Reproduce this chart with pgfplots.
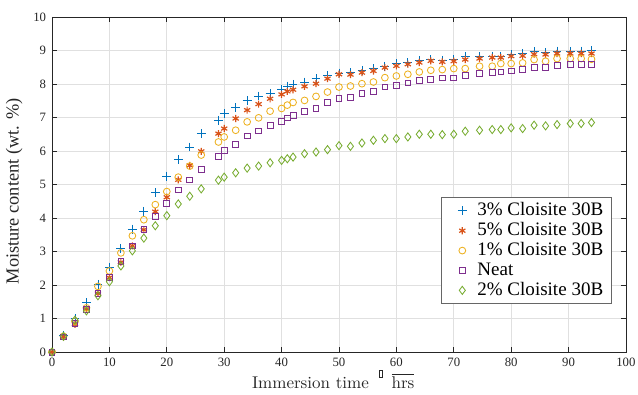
\documentclass[border=0pt]{standalone}
\usepackage{fontspec}
\usepackage{pgfplots}
\usepackage{pgfplotstable}
\pgfplotsset{compat=1.18}
\newfontfamily\tnr{Liberation Serif}
\definecolor{mblue}{rgb}{0,0.447,0.741}
\definecolor{mred}{rgb}{0.85,0.325,0.098}
\definecolor{myel}{rgb}{0.929,0.694,0.125}
\definecolor{mpur}{rgb}{0.494,0.184,0.556}
\definecolor{mgrn}{rgb}{0.466,0.674,0.188}
\pgfplotstableread{
t     c3    c5    c1    neat  c2
0     0     0     0     0     0
2     0.50  0.45  0.47  0.45  0.47
4     1.00  0.83  0.92  0.85  0.95
6     1.47  1.28  1.32  1.27  1.23
8     2.02  1.75  1.96  1.75  1.68
10    2.54  2.22  2.42  2.22  2.10
12    3.10  2.68  2.96  2.70  2.57
14    3.67  3.17  3.47  3.17  3.02
16    4.20  3.65  3.95  3.65  3.40
18    4.75  4.19  4.40  4.05  3.77
20    5.25  4.62  4.79  4.44  4.07
22    5.74  5.14  5.22  4.84  4.42
24    6.12  5.57  5.55  5.14  4.65
26    6.52  5.99  5.88  5.45  4.87
29    6.92  6.52  6.27  5.85  5.13
30    7.12  6.67  6.42  6.01  5.22
32    7.29  6.97  6.62  6.20  5.35
34    7.51  7.22  6.87  6.45  5.49
36    7.64  7.40  6.99  6.60  5.55
38    7.71  7.56  7.19  6.77  5.65
40    7.83  7.69  7.27  6.89  5.72
41    7.94  7.78  7.37  6.99  5.77
42    7.99  7.83  7.45  7.07  5.82
44    8.06  7.93  7.51  7.17  5.92
46    8.16  8.01  7.63  7.27  5.97
48    8.26  8.16  7.76  7.45  6.04
50    8.33  8.29  7.91  7.58  6.16
52    8.34  8.28  7.94  7.59  6.14
54    8.41  8.34  8.01  7.71  6.24
56    8.46  8.39  8.06  7.78  6.32
58    8.53  8.49  8.19  7.91  6.37
60    8.61  8.54  8.24  7.96  6.37
62    8.63  8.59  8.29  8.03  6.42
64    8.69  8.64  8.36  8.11  6.50
66    8.73  8.69  8.41  8.14  6.50
68    8.71  8.66  8.43  8.18  6.49
70    8.73  8.68  8.46  8.18  6.50
72    8.81  8.73  8.46  8.26  6.59
74.5  8.82  8.76  8.53  8.31  6.62
76.7  8.83  8.79  8.53  8.34  6.64
78.2  8.83  8.79  8.61  8.36  6.64
80    8.88  8.83  8.61  8.39  6.69
82    8.91  8.84  8.63  8.44  6.67
84    8.96  8.89  8.73  8.49  6.77
86    8.94  8.88  8.68  8.49  6.75
88    8.98  8.91  8.76  8.56  6.79
90.3  8.96  8.91  8.76  8.59  6.82
92.2  8.98  8.91  8.76  8.58  6.82
94    8.99  8.91  8.74  8.59  6.85
}\datatable
\begin{document}
\begin{tikzpicture}
\begin{axis}[
  scale only axis,
  width=337.6pt, height=197.1pt,
  xmin=0, xmax=100, ymin=0, ymax=10,
  xtick={0,10,...,100}, ytick={0,1,...,10},
  tick align=inside,
  major tick length=3pt,
  axis line style={black!85, line width=0.5pt},
  tick style={black!85, line width=0.4pt},
  grid=major,
  major grid style={black!12, line width=0.4pt},
  /pgf/number format/assume math mode=true,
  ticklabel style={font=\tnr\fontsize{7.5}{9}\selectfont, black!85},
  xlabel={Immersion time\hspace{6pt}\raisebox{6.5pt}{\fboxsep=0pt\fboxrule=0.4pt\fbox{\rule{0pt}{3.5pt}\hspace{1.6pt}}}\hspace{5pt}$\overline{\mathrm{hrs}}$},
  ylabel={\tnr Moisture content (wt. \%)},
  xlabel style={at={(axis description cs:0.49,-0.1075)}, anchor=base, font=\fontsize{10}{12}\selectfont, black!85},
  ylabel style={at={(axis description cs:-0.066,0.48)}, anchor=center, rotate=0, font=\fontsize{10.8}{12}\selectfont, black!85},
  legend style={at={(0.976,0.143)}, anchor=south east, font=\tnr\fontsize{11.2}{12}\selectfont, draw=black!60, line width=0.5pt, inner xsep=3pt, inner ysep=2pt, row sep=0pt,
    nodes={text height=7.6pt, text depth=2.1pt, inner ysep=1pt}},
  legend cell align=left,
  legend image code/.code={\path (-9pt,0pt) (6.5pt,0pt); \draw[#1] plot coordinates {(0pt,0pt)};},
]
\coordinate (bl) at (rel axis cs:0,0);
\coordinate (tr) at (rel axis cs:1,1);
\addplot[only marks, mark=+, mark size=2.6pt, mark options={draw=mblue}, draw=mblue, line width=0.5pt] table[x=t, y=c3] {\datatable};
\addlegendentry{3\% Cloisite 30B}
\addplot[only marks, mark=asterisk, mark size=2.1pt, mark options={draw=mred}, draw=mred, line width=0.7pt] table[x=t, y=c5] {\datatable};
\addlegendentry{5\% Cloisite 30B}
\addplot[only marks, mark=o, mark size=2.0pt, mark options={draw=myel, fill=none}, draw=myel, line width=0.5pt] table[x=t, y=c1] {\datatable};
\addlegendentry{1\% Cloisite 30B}
\addplot[only marks, mark=square, mark size=1.7pt, mark options={draw=mpur, fill=none}, draw=mpur, line width=0.5pt] table[x=t, y=neat] {\datatable};
\addlegendentry{Neat}
\addplot[only marks, mark=diamond, mark size=2.4pt, mark options={draw=mgrn, fill=none}, draw=mgrn, line width=0.5pt] table[x=t, y=c2] {\datatable};
\addlegendentry{2\% Cloisite 30B}
\end{axis}
\pgfresetboundingbox
\path ([shift={(-30.6pt,-24.7pt)}]bl) rectangle ([shift={(7.1pt,10pt)}]tr);
\end{tikzpicture}
\end{document}
